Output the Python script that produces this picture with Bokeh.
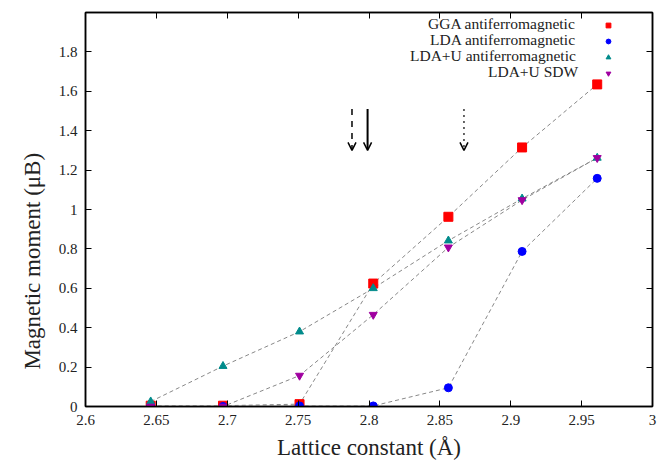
import math
from bokeh.plotting import figure
from bokeh.models import (FixedTicker, LinearAxis, Range1d, Legend, LegendItem,
                          Arrow, OpenHead)
from bokeh.embed import file_html
from bokeh.resources import INLINE

# ---- data ----
lattice = [2.646, 2.697, 2.751, 2.803, 2.856, 2.908, 2.961]
gga_afm = [0.004, 0.004, 0.012, 0.624, 0.963, 1.315, 1.635]
lda_afm = [0.0, 0.0, 0.003, 0.003, 0.095, 0.787, 1.158]
ldau_afm = [0.025, 0.205, 0.380, 0.600, 0.842, 1.055, 1.262]
ldau_sdw = [0.0, 0.0, 0.157, 0.466, 0.808, 1.048, 1.262]

series_names = ["GGA antiferromagnetic", "LDA antiferromagnetic",
                "LDA+U antiferromagnetic", "LDA+U SDW"]

x_ticks = [2.6, 2.65, 2.7, 2.75, 2.8, 2.85, 2.9, 2.95, 3.0]
y_ticks = [0, 0.2, 0.4, 0.6, 0.8, 1.0, 1.2, 1.4, 1.6, 1.8]

arrow_x = [2.788, 2.799, 2.867]
arrow_dash = ["dashed", "solid", "dotted"]
arrow_width = [1.5, 2.0, 1.2]
arrow_y_top = 1.51
arrow_y_bottom = 1.30

SERIF = "serif"
NBSP = "\u00a0"

FW, FH = 567, 394
p = figure(frame_width=FW, frame_height=FH, output_backend="svg",
           toolbar_location=None, x_range=Range1d(2.6, 3.0),
           y_range=Range1d(0, 2.0), min_border_left=85, min_border_right=8,
           min_border_top=12, min_border_bottom=52)
p.xgrid.visible = False
p.ygrid.visible = False
p.outline_line_color = "black"
p.outline_line_width = 1.5
p.background_fill_color = "white"
p.border_fill_color = "white"

def style_axis(ax, ticks, show_labels):
    ax.ticker = FixedTicker(ticks=ticks)
    ax.major_tick_in = 6
    ax.major_tick_out = 0
    ax.minor_tick_line_color = None
    ax.axis_line_color = "black"
    ax.axis_line_width = 1.5
    ax.major_tick_line_color = "black"
    ax.major_tick_line_width = 1
    ax.major_label_text_font = SERIF
    ax.major_label_text_font_style = "normal"
    ax.major_label_text_font_size = "15px"
    ax.major_label_text_color = "#222222"
    if show_labels:
        ax.major_label_overrides = {t: f"{t:g}" for t in ticks}
    else:
        ax.major_label_overrides = {t: "" for t in ticks}
        ax.major_label_standoff = 0

style_axis(p.xaxis[0], x_ticks, True)
style_axis(p.yaxis[0], y_ticks, True)
p.xaxis[0].major_label_standoff = 8
p.yaxis[0].major_label_standoff = 8
for ax, lab in ((p.xaxis[0], "Lattice constant (Å)"),
                (p.yaxis[0], "Magnetic moment (μB)" + NBSP * 18)):
    ax.axis_label = lab
    ax.axis_label_text_font = SERIF
    ax.axis_label_text_font_style = "normal"
    ax.axis_label_text_font_size = "23px"
    ax.axis_label_text_color = "#222222"
p.xaxis[0].axis_label_standoff = 7
p.yaxis[0].axis_label_standoff = 11

top_ax = LinearAxis()
style_axis(top_ax, x_ticks, False)
p.add_layout(top_ax, "above")
right_ax = LinearAxis()
style_axis(right_ax, y_ticks, False)
p.add_layout(right_ax, "right")

# connecting dashed lines
all_series = [gga_afm, lda_afm, ldau_afm, ldau_sdw]
for ys in all_series:
    p.line(lattice, ys, line_color="#888888", line_width=1, line_dash="4 3")

r1 = p.scatter(lattice, gga_afm, marker="square", size=9, color="#ff0000")
r2 = p.scatter(lattice, lda_afm, marker="circle", size=8, color="#0000ff")
r3 = p.scatter(lattice, ldau_afm, marker="triangle", size=8, color="#008b8b")
r4 = p.scatter(lattice, ldau_sdw, marker="inverted_triangle", size=8, color="#a000a0")
renderers = [r1, r2, r3, r4]

# legend, gnuplot style: right-aligned texts, symbols to their right
dummy = p.scatter([], [], marker="square", size=1, fill_alpha=0, line_alpha=0)
TEXT_END = 490                      # px from frame left where texts end
text_w = [147, 145, 165, 87]        # approx. rendered widths at 15.5px
SYM_ROW = 16
row_center_from_top = [13 + SYM_ROW * i for i in range(4)]
ROW_H = 16
for name, w, c in zip(series_names, text_w, row_center_from_top):
    lg = Legend(items=[LegendItem(label=name, renderers=[dummy])],
                location=(TEXT_END - w - 1, FH - c - ROW_H // 2),
                background_fill_alpha=0, border_line_color=None,
                label_text_font=SERIF, label_text_font_style="normal",
                label_text_font_size="15.5px", label_text_color="#222222",
                label_height=ROW_H, glyph_height=ROW_H, glyph_width=1, spacing=0,
                padding=0, margin=0, label_standoff=0, label_width=1)
    p.add_layout(lg)

legend_syms = Legend(items=[LegendItem(label="", renderers=[r]) for r in renderers],
                     location=(517, FH - row_center_from_top[0] + SYM_ROW // 2 - 4 * SYM_ROW),
                     background_fill_alpha=0, border_line_color=None,
                     label_text_font_size="1px",
                     label_height=SYM_ROW, glyph_height=SYM_ROW, glyph_width=12, spacing=0,
                     padding=0, margin=0, label_standoff=0, label_width=1)
p.add_layout(legend_syms)

for xa, d, w in zip(arrow_x, arrow_dash, arrow_width):
    p.add_layout(Arrow(x_start=xa, y_start=arrow_y_top, x_end=xa, y_end=arrow_y_bottom,
                       line_dash=d, line_width=w, line_color="black",
                       end=OpenHead(size=8, line_width=1.5, line_color="black")))

open("out.html", "w").write(file_html(p, INLINE))
